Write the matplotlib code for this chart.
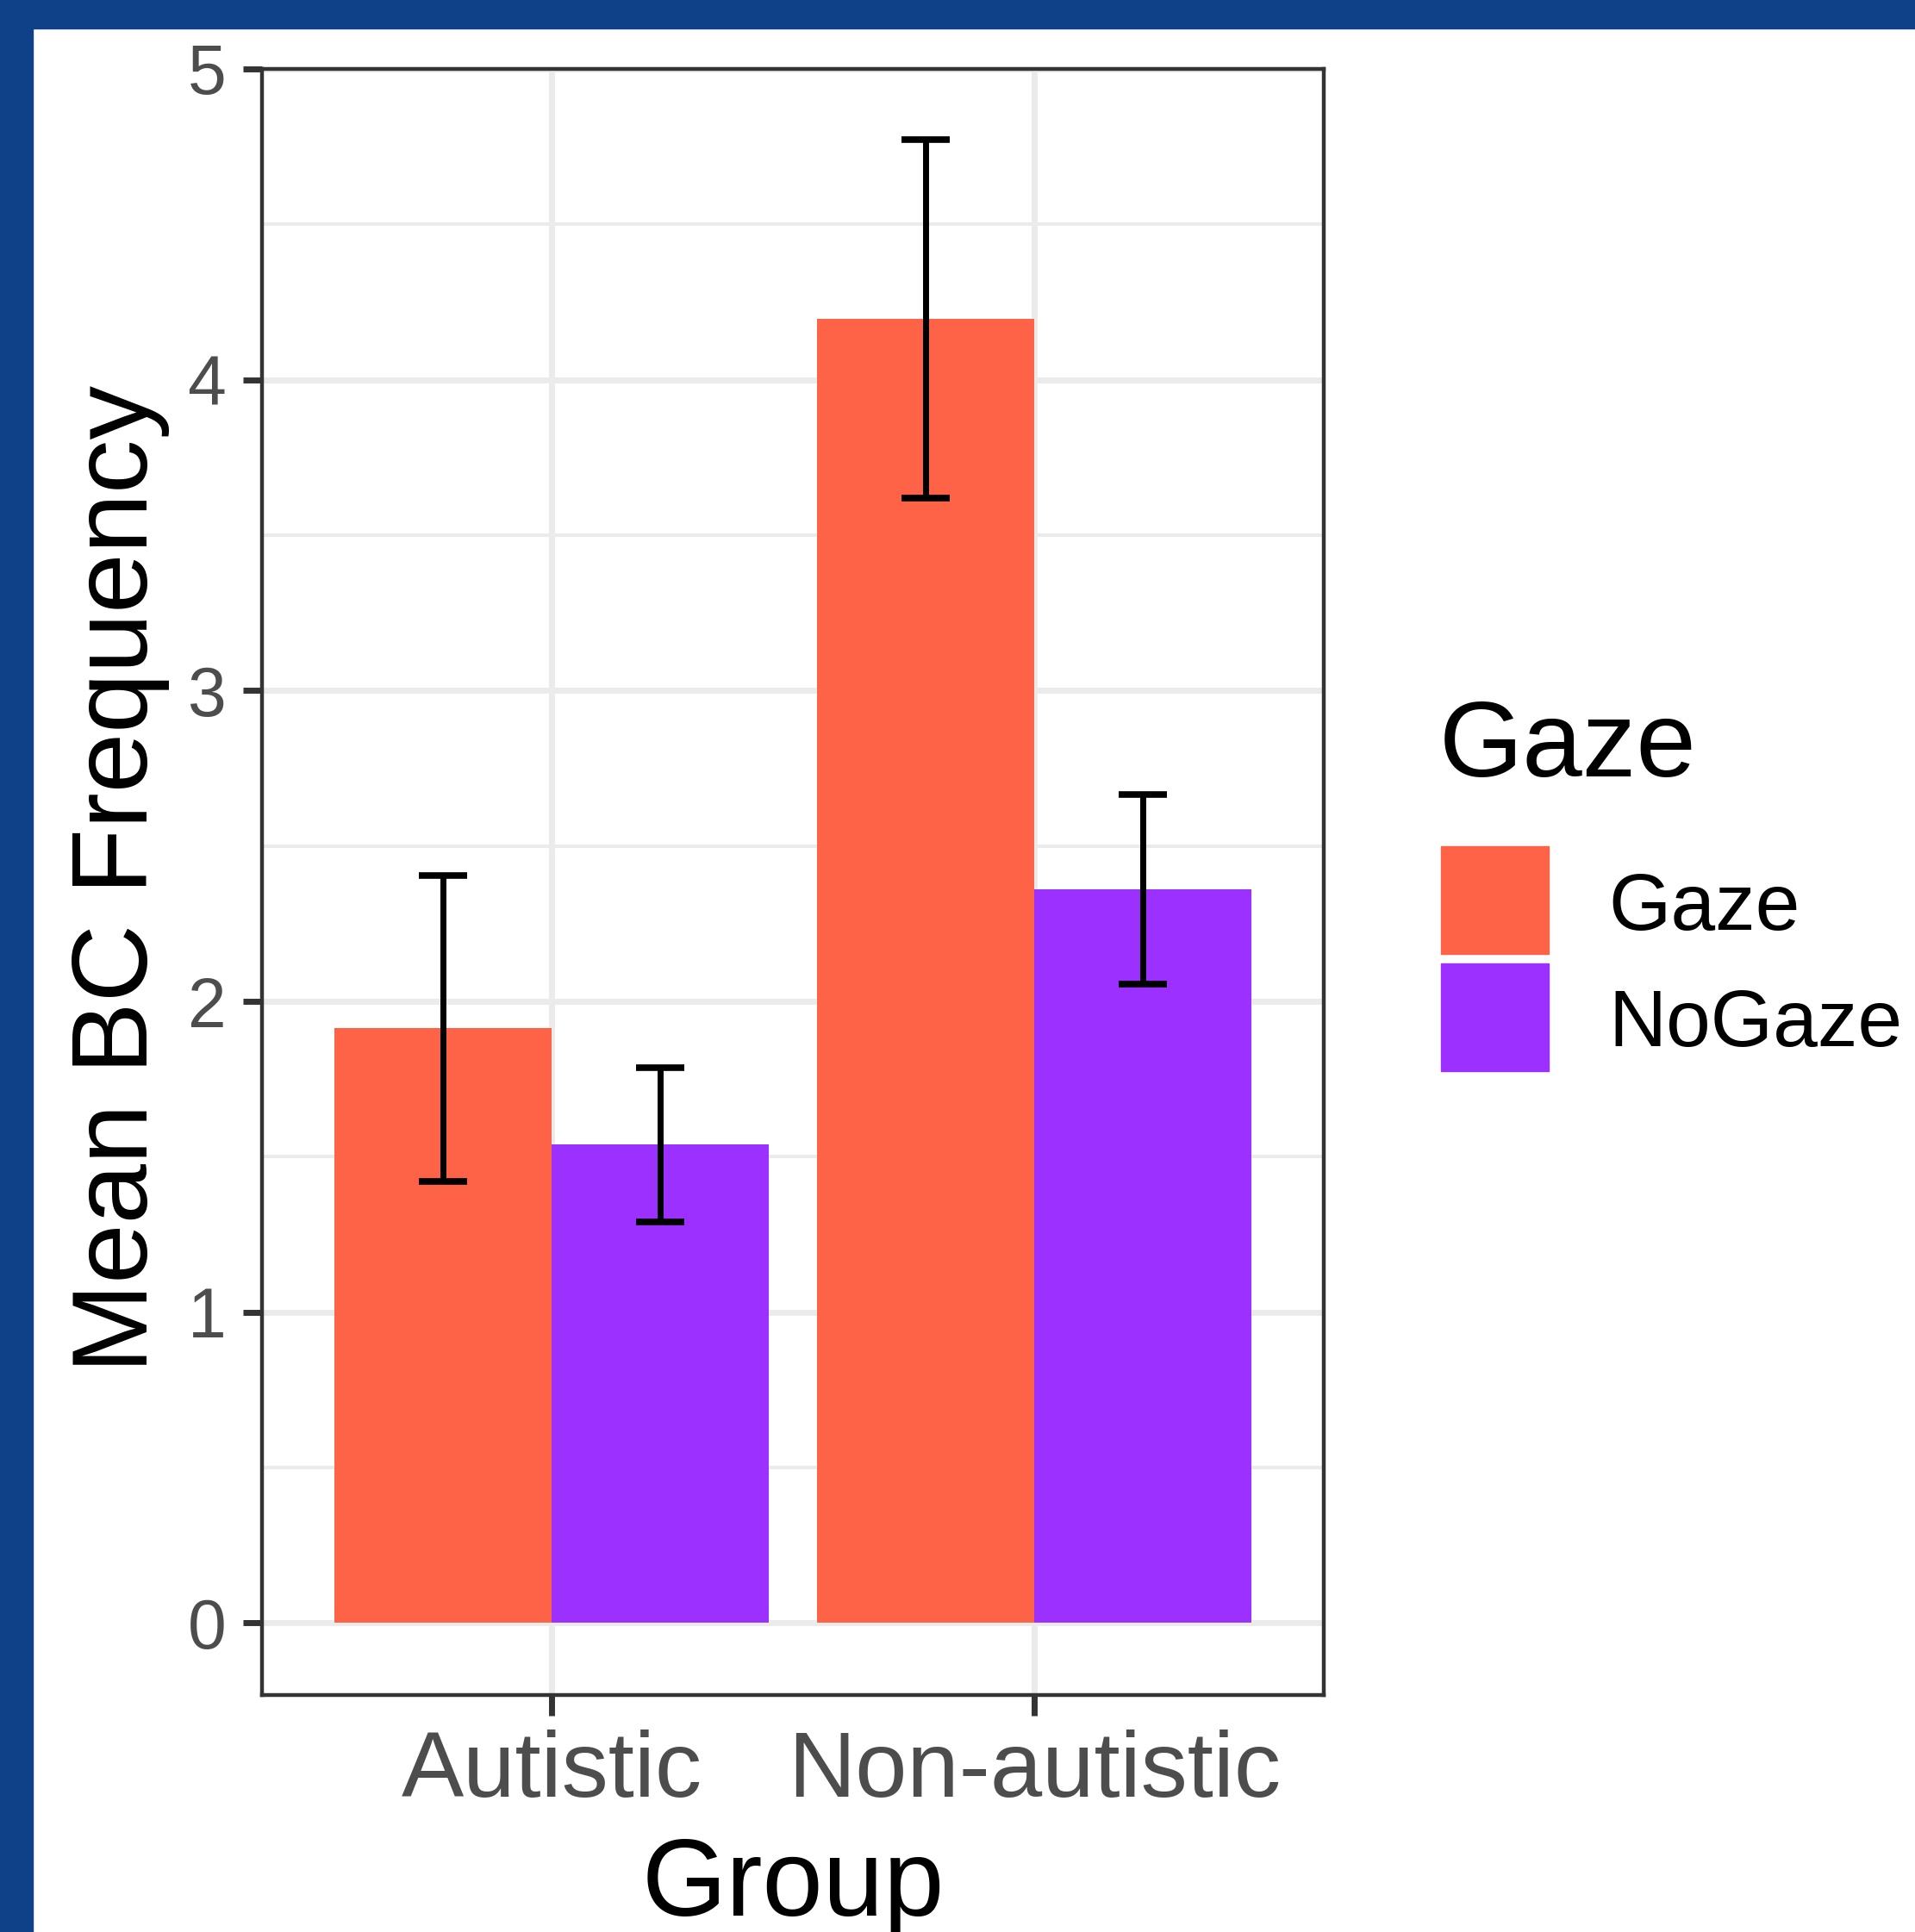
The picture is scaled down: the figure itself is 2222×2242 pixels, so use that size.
import matplotlib
matplotlib.use("Agg")
import matplotlib.pyplot as plt
from matplotlib.patches import Rectangle
import numpy as np

# data
groups = ["Autistic", "Non-autistic"]
gaze_levels = ["Gaze", "NoGaze"]
gaze_means = [1.913, 4.196]
gaze_err = [0.492, 0.578]
nogaze_means = [1.539, 2.360]
nogaze_err = [0.249, 0.305]
y_ticks = [0, 1, 2, 3, 4, 5]

COLORS = {"Gaze": "#FF6347", "NoGaze": "#9B30FF"}
W, H = 2222, 2242
DPI = 100

plt.rcParams["font.family"] = ["Liberation Sans", "DejaVu Sans"]


def fx(px):
    return px / W


def fy(py):
    return 1 - py / H


fig = plt.figure(figsize=(W / DPI, H / DPI), dpi=DPI)
fig.patch.set_facecolor("white")

# blue frame on top and left
fig.patches.append(Rectangle((0, fy(33)), 1, 33 / H, transform=fig.transFigure,
                             color="#0F4189", zorder=0))
fig.patches.append(Rectangle((0, 0), 38 / W, 1, transform=fig.transFigure,
                             color="#0F4189", zorder=0))

left, right, top, bottom = 304, 1536, 80, 1967
ax = fig.add_axes([fx(left), fy(bottom), (right - left) / W, (bottom - top) / H])

x = np.arange(1, len(groups) + 1)
bw = 0.45
means = {"Gaze": gaze_means, "NoGaze": nogaze_means}
errs = {"Gaze": gaze_err, "NoGaze": nogaze_err}
offsets = {"Gaze": -bw / 2, "NoGaze": bw / 2}

for lvl in gaze_levels:
    ax.bar(x + offsets[lvl], means[lvl], width=bw, color=COLORS[lvl], zorder=2)
    ax.errorbar(x + offsets[lvl], means[lvl], yerr=errs[lvl], fmt="none",
                ecolor="black", elinewidth=5, capsize=20, capthick=5.5, zorder=3)

ax.set_xlim(0.4, 2.6)
ax.set_ylim(-0.2315, 5.0)
ax.set_yticks(y_ticks)
ax.set_yticklabels([str(t) for t in y_ticks])
ax.set_yticks(np.arange(0.5, 5, 1.0), minor=True)
ax.set_xticks(x)
ax.set_xticklabels(groups)

ax.set_axisbelow(True)
ax.grid(which="major", axis="both", color="#EBEBEB", linewidth=5, zorder=0)
ax.grid(which="minor", axis="y", color="#EBEBEB", linewidth=3, zorder=0)

for s in ax.spines.values():
    s.set_color("#333333")
    s.set_linewidth(3.2)
    s.set_zorder(4)

ax.tick_params(axis="y", which="major", length=16, width=5, color="#333333",
               labelsize=58, labelcolor="#4D4D4D", pad=14)
ax.tick_params(axis="y", which="minor", length=0)
ax.tick_params(axis="x", which="major", length=17, width=5, color="#333333",
               labelsize=78, labelcolor="#4D4D4D", pad=12)

# axis titles
fig.text(fx(81), fy(1020), "Mean BC Frequency", rotation=90, ha="left",
         va="center", fontsize=90, color="black")
fig.text(fx(920), fy(2131), "Group", ha="center", va="top", fontsize=91,
         color="black")

# legend
fig.text(fx(1670), fy(901), "Gaze", ha="left", va="baseline", fontsize=90,
         color="black")
key_tops = [982, 1118]
label_base = [1079, 1214]
for lvl, kt, lb in zip(gaze_levels, key_tops, label_base):
    fig.patches.append(Rectangle((fx(1672), fy(kt + 125)), 125 / W, 125 / H,
                                 transform=fig.transFigure, color=COLORS[lvl]))
    fig.text(fx(1866), fy(lb), lvl, ha="left", va="baseline", fontsize=67,
             color="black")

fig.savefig("out.png", dpi=DPI)
